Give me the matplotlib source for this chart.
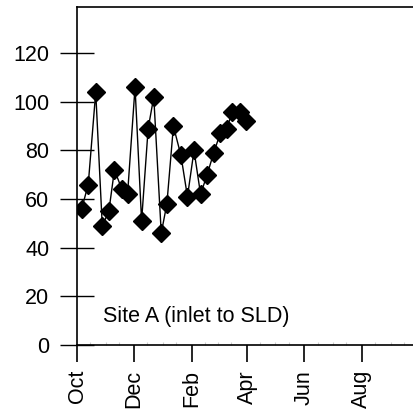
import numpy as np
import pandas as pd
import matplotlib
matplotlib.use("Agg")
import matplotlib.pyplot as plt
import matplotlib.dates as mdates

plt.rcParams['font.family'] = ['Liberation Sans', 'DejaVu Sans']

# Weekly samples, Site A (inlet to SLD)
dates = ["2002-10-06", "2002-10-13", "2002-10-21", "2002-10-28", "2002-11-04",
         "2002-11-10", "2002-11-18", "2002-11-24", "2002-12-02", "2002-12-09",
         "2002-12-16", "2002-12-22", "2002-12-30", "2003-01-05", "2003-01-12",
         "2003-01-20", "2003-01-27", "2003-02-03", "2003-02-10", "2003-02-17",
         "2003-02-24", "2003-03-03", "2003-03-10", "2003-03-16", "2003-03-24",
         "2003-03-31"]
values = [56, 66, 104, 49, 55, 72, 64, 62, 106, 51, 89, 102, 46, 58, 90,
          78, 61, 80, 62, 70, 79, 87, 89, 96, 96, 92]
site_label = "Site A (inlet to SLD)"

x = pd.to_datetime(dates)

W, H = 414, 417
fig = plt.figure(figsize=(W / 100, H / 100), dpi=100)
# axes: left spine at x=77px, bottom at y=345px, top at y=7px; 360 days ~ 337px
ax = fig.add_axes([77 / W, 1 - 345 / H, 337 / W, 338 / H])

ax.plot(x, values, '-', color='black', lw=1.0, marker='D', ms=9.5,
        mfc='black', mec='black', zorder=3)

ax.set_xlim(pd.Timestamp("2002-10-01"), pd.Timestamp("2003-09-26"))
ax.set_ylim(0, 139)

ax.xaxis.set_major_locator(mdates.MonthLocator(bymonth=[10, 12, 2, 4, 6, 8]))
ax.xaxis.set_major_formatter(mdates.DateFormatter('%b'))
ax.xaxis.set_minor_locator(mdates.DayLocator(bymonthday=[1, 15]))
ax.set_yticks([0, 20, 40, 60, 80, 100, 120])

for lab in ax.get_xticklabels():
    lab.set_rotation(90)

ax.tick_params(axis='x', which='major', direction='out', length=12, width=1.2,
               pad=6, labelsize=15.5)
ax.tick_params(axis='x', which='minor', direction='in', length=2, width=0.8,
               color='#cccccc')
ax.tick_params(axis='y', which='major', direction='inout', length=24, width=1.0,
               pad=8, labelsize=15.5)

ax.spines['right'].set_visible(False)
for s in ['left', 'bottom', 'top']:
    ax.spines[s].set_linewidth(1.2)

ax.text(0.077, 0.083, site_label, transform=ax.transAxes, fontsize=15.5,
        ha='left', va='center')

fig.savefig("out.png", dpi=100)
